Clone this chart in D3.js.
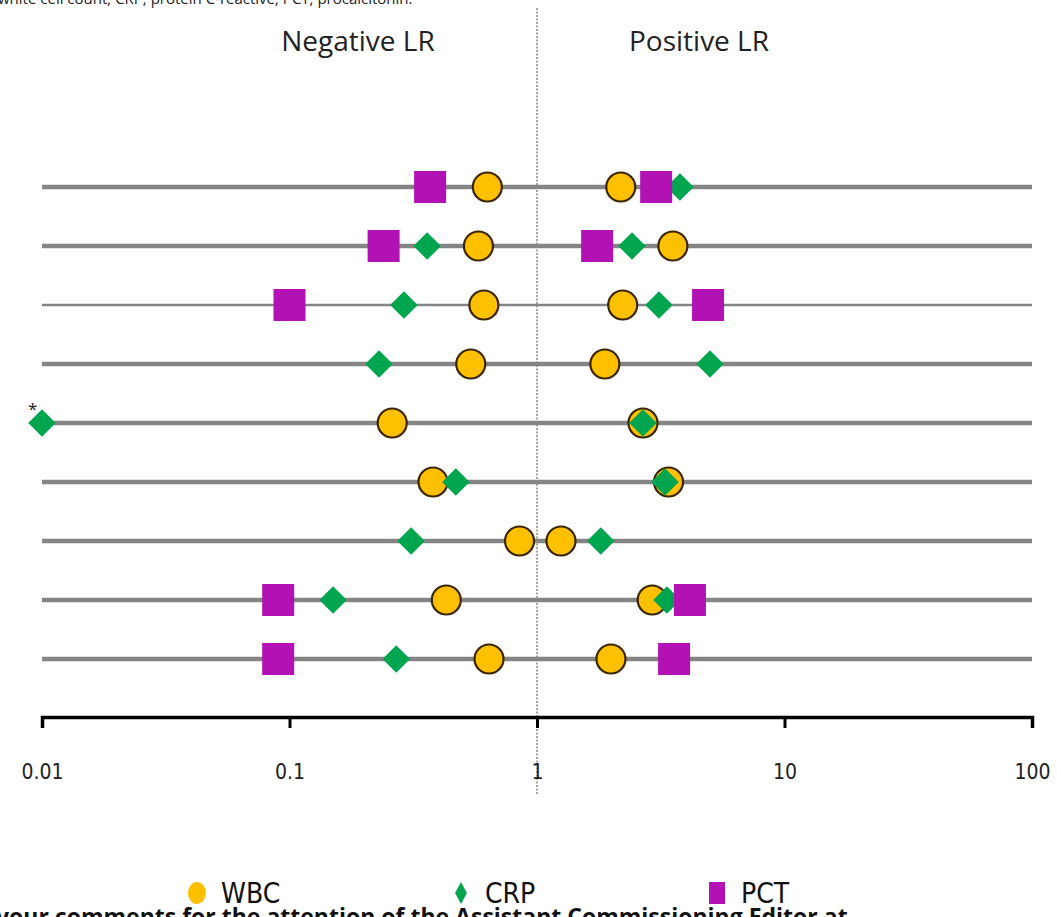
<!DOCTYPE html>
<html>
<head>
<meta charset="utf-8">
<script src="https://cdn.jsdelivr.net/npm/d3@7"></script>
<style>
  body { margin: 0; background: #fff; }
  svg { display: block; }
</style>
</head>
<body>
<div id="chart"></div>
<script>
// likelihood ratios per study row (top to bottom); null = not reported
var rows = d3.range(9);
var wbcNeg = [0.63, 0.58, 0.61, 0.54, 0.26, 0.38, 0.85, 0.43, 0.64];
var wbcPos = [2.18, 3.54, 2.22, 1.88, 2.68, 3.40, 1.25, 2.92, 1.99];
var crpNeg = [0.36, 0.36, 0.29, 0.23, 0.01, 0.47, 0.31, 0.15, 0.27];
var crpPos = [3.78, 2.42, 3.11, 5.00, 2.68, 3.29, 1.81, 3.35, null];
var pctNeg = [0.37, 0.24, 0.10, null, null, null, null, 0.09, 0.09];
var pctPos = [3.03, 1.75, 4.91, null, null, null, null, 4.15, 3.58];
var tickValues = [0.01, 0.1, 1, 10, 100];
var legendNames = ["WBC", "CRP", "PCT"];

var W = 1057, H = 917;
var svg = d3.select("#chart").append("svg").attr("width", W).attr("height", H);

var x = d3.scaleLog().domain([0.01, 100]).range([42, 1032]);
var y = d3.scalePoint().domain(rows).range([187, 659]);

var font = "'Open Sans', sans-serif";
var narrow = "'DejaVu Sans Condensed', 'Liberation Sans Narrow', sans-serif";

// cut-off caption at top and bottom (from surrounding page)
svg.append("text").attr("x", -2).attr("y", 4).attr("font-family", font).attr("font-size", 15)
  .attr("fill", "#222").text("white cell count; CRP, protein C-reactive; PCT, procalcitonin.");

// vertical reference at LR = 1
svg.append("line").attr("x1", x(1)).attr("x2", x(1)).attr("y1", 8).attr("y2", 795)
  .attr("stroke", "#777").attr("stroke-width", 1.3).attr("stroke-dasharray", "2,1.5");

svg.append("text").attr("x", 358).attr("y", 51).attr("text-anchor", "middle")
  .attr("font-family", font).attr("font-size", 28).attr("fill", "#222").text("Negative LR");
svg.append("text").attr("x", 699).attr("y", 51).attr("text-anchor", "middle")
  .attr("font-family", font).attr("font-size", 28).attr("fill", "#222").text("Positive LR");

// row lines
svg.append("g").selectAll("line").data(rows).join("line")
  .attr("x1", x(0.01)).attr("x2", x(100))
  .attr("y1", function(d) { return y(d); }).attr("y2", function(d) { return y(d); })
  .attr("stroke", "#858585").attr("stroke-width", function(d) { return d === 2 ? 2.5 : 4.5; });

// x axis
var axis = svg.append("g").attr("transform", "translate(0,717)")
  .call(d3.axisBottom(x).tickValues(tickValues).tickFormat(d3.format("~g")).tickSize(11).tickPadding(36));
axis.select(".domain").attr("stroke", "#000").attr("stroke-width", 3.5);
axis.selectAll(".tick line").attr("stroke", "#000").attr("stroke-width", 3);
axis.selectAll(".tick text").attr("font-family", narrow)
  .attr("font-size", 21).attr("fill", "#222");

function pts(neg, pos) {
  var out = [];
  rows.forEach(function(r) {
    if (neg[r] != null) out.push({ r: r, v: neg[r] });
    if (pos[r] != null) out.push({ r: r, v: pos[r] });
  });
  return out;
}

var diamond = d3.symbol().type(d3.symbolSquare).size(380);
var square = 32;

function drawWBC(g, data) {
  g.selectAll("circle").data(data).join("circle")
    .attr("cx", function(d) { return x(d.v); }).attr("cy", function(d) { return y(d.r); })
    .attr("r", 14.5).attr("fill", "#FFC000").attr("stroke", "#3a2600").attr("stroke-width", 2.2);
}
function drawCRP(g, data) {
  g.selectAll("path").data(data).join("path")
    .attr("transform", function(d) { return "translate(" + x(d.v) + "," + y(d.r) + ") rotate(45)"; })
    .attr("d", diamond).attr("fill", "#00A550");
}
function drawPCT(g, data) {
  g.selectAll("rect").data(data).join("rect")
    .attr("x", function(d) { return x(d.v) - square / 2; }).attr("y", function(d) { return y(d.r) - square / 2; })
    .attr("width", square).attr("height", square).attr("fill", "#B212B4");
}

drawWBC(svg.append("g"), pts(wbcNeg, wbcPos));
drawCRP(svg.append("g"), pts(crpNeg, crpPos));
drawPCT(svg.append("g"), pts(pctNeg, pctPos));

// asterisk next to truncated CRP value
svg.append("text").attr("x", x(crpNeg[4]) - 14).attr("y", y(4) - 8)
  .attr("font-family", font).attr("font-size", 17).attr("fill", "#222").text("*");

// legend
var lg = svg.append("g").attr("transform", "translate(0,893)");
var lx = [197, 461, 717];
lg.append("ellipse").attr("cx", lx[0]).attr("cy", 0).attr("rx", 9).attr("ry", 11).attr("fill", "#FFC000");
lg.append("path").attr("transform", "translate(" + lx[1] + ",0) scale(0.8,1.5) rotate(45)")
  .attr("d", d3.symbol().type(d3.symbolSquare).size(110)).attr("fill", "#00A550");
lg.append("rect").attr("x", lx[2] - 8).attr("y", -11).attr("width", 16).attr("height", 22).attr("fill", "#B212B4");
lg.selectAll("text").data(legendNames).join("text")
  .attr("x", function(d, i) { return lx[i] + 24; }).attr("y", 10)
  .attr("font-family", narrow).attr("font-size", 28).attr("fill", "#111")
  .text(function(d) { return d; });

svg.append("text").attr("x", -4).attr("y", 925).attr("font-family", font).attr("font-size", 23)
  .attr("font-weight", "bold").attr("fill", "#111")
  .text("your comments for the attention of the Assistant Commissioning Editor at");
</script>
</body>
</html>
